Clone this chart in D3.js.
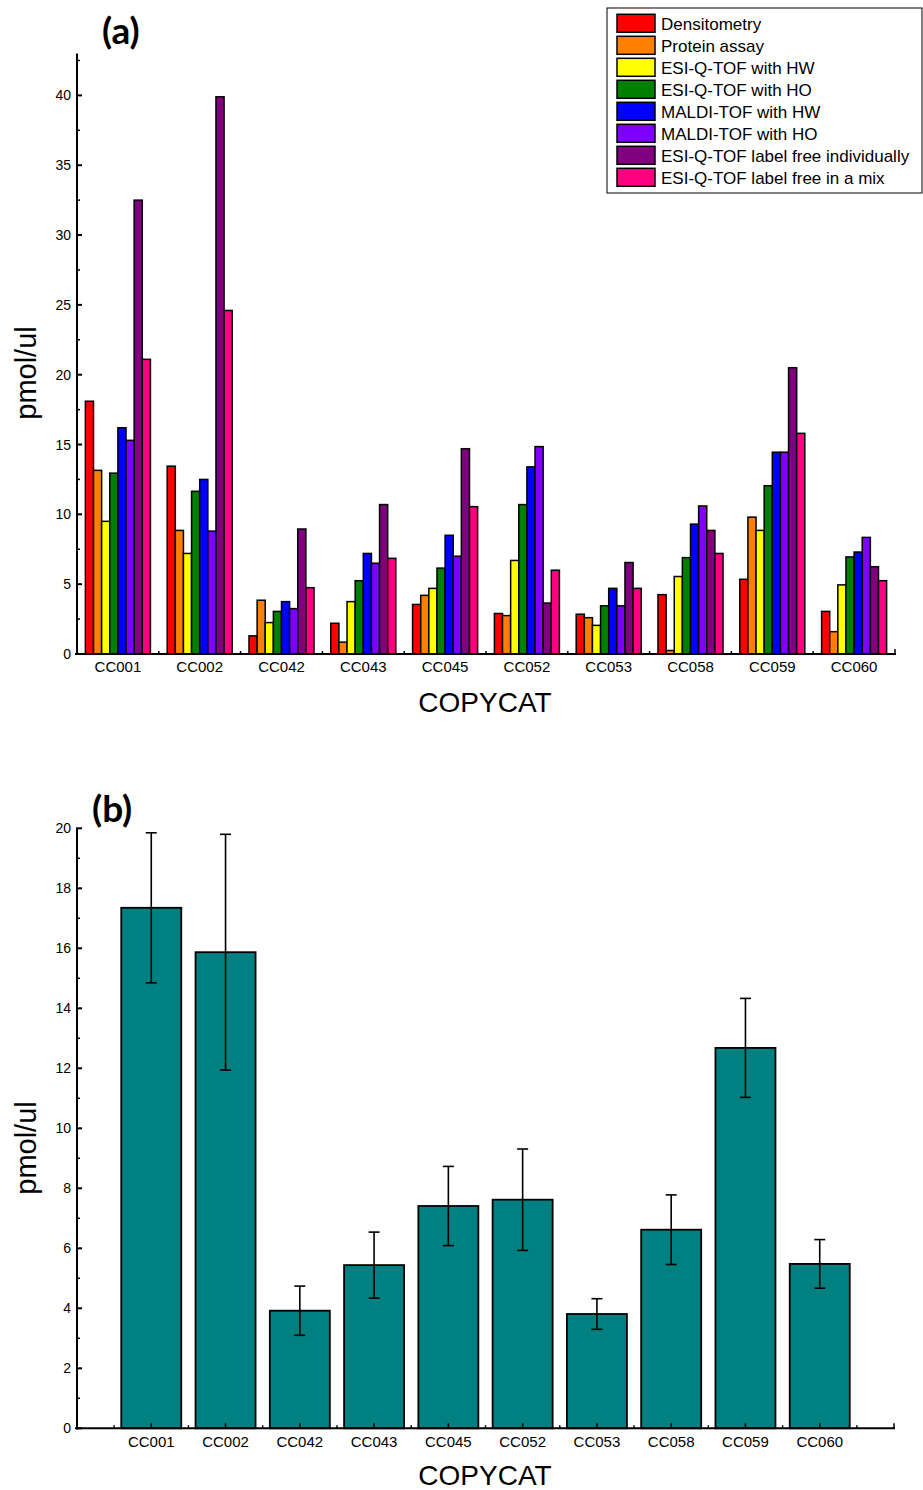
<!DOCTYPE html>
<html>
<head>
<meta charset="utf-8">
<script src="https://cdn.jsdelivr.net/npm/d3@7"></script>
<style>
  html, body { margin: 0; padding: 0; background: #fff; }
  svg { display: block; }
  text { font-family: "Liberation Sans", Arial, sans-serif; fill: #000; }
  text.panel { font-family: Lato, "Open Sans", sans-serif; font-weight: 700; }
</style>
</head>
<body>
<svg id="fig" width="923" height="1490"></svg>
<script>
// ---- data -------------------------------------------------------------
const categories = ["CC001","CC002","CC042","CC043","CC045","CC052","CC053","CC058","CC059","CC060"];

const seriesNames = [
  "Densitometry",
  "Protein assay",
  "ESI-Q-TOF with HW",
  "ESI-Q-TOF with HO",
  "MALDI-TOF with HW",
  "MALDI-TOF with HO",
  "ESI-Q-TOF label free individually",
  "ESI-Q-TOF label free in a mix"
];
const seriesColors = ["#FF0000","#FF8000","#FFFF00","#008000","#0000FF","#8000FF","#800080","#FF0080"];

// one array per method, values per COPYCAT protein (pmol/ul)
const densitometry   = [18.1, 13.45, 1.3, 2.2, 3.55, 2.9, 2.85, 4.25, 5.35, 3.05];
const proteinAssay   = [13.15, 8.85, 3.85, 0.85, 4.2, 2.75, 2.6, 0.25, 9.8, 1.6];
const esiHW          = [9.5, 7.2, 2.25, 3.75, 4.7, 6.7, 2.05, 5.55, 8.85, 4.95];
const esiHO          = [12.95, 11.65, 3.05, 5.25, 6.15, 10.7, 3.45, 6.9, 12.05, 6.95];
const maldiHW        = [16.2, 12.5, 3.75, 7.2, 8.5, 13.4, 4.7, 9.3, 14.45, 7.3];
const maldiHO        = [15.3, 8.8, 3.25, 6.5, 7.0, 14.85, 3.45, 10.6, 14.45, 8.35];
const esiFreeIndiv   = [32.5, 39.9, 8.95, 10.7, 14.7, 3.65, 6.55, 8.85, 20.5, 6.25];
const esiFreeMix     = [21.1, 24.6, 4.75, 6.85, 10.55, 6.0, 4.7, 7.2, 15.8, 5.25];

const seriesValues = [densitometry, proteinAssay, esiHW, esiHO, maldiHW, maldiHO, esiFreeIndiv, esiFreeMix];

// panel (b): mean over all methods and its error
const meanValues = [17.35, 15.87, 3.92, 5.44, 7.41, 7.62, 3.81, 6.62, 12.68, 5.48];
const meanErrors = [2.5, 3.93, 0.82, 1.1, 1.32, 1.69, 0.51, 1.16, 1.65, 0.81];

const yTicksA = [0, 5, 10, 15, 20, 25, 30, 35, 40];
const yTicksB = [0, 2, 4, 6, 8, 10, 12, 14, 16, 18, 20];

// ---- helpers ----------------------------------------------------------
const svg = d3.select("#fig");

function yAxisLeft(g, y, majors, minorStep, maxVal, x0) {
  g.append("line").attr("x1", x0).attr("x2", x0)
    .attr("y1", y(0) + 1).attr("y2", y(maxVal))
    .attr("stroke", "#000").attr("stroke-width", 2);
  const minors = d3.range(0, maxVal + 1e-9, minorStep).filter(v => !majors.includes(v));
  g.selectAll(null).data(majors).join("line")
    .attr("x1", x0 - 1).attr("x2", x0 + 5)
    .attr("y1", d => y(d)).attr("y2", d => y(d))
    .attr("stroke", "#000").attr("stroke-width", 2);
  g.selectAll(null).data(minors).join("line")
    .attr("x1", x0).attr("x2", x0 + 3)
    .attr("y1", d => y(d)).attr("y2", d => y(d))
    .attr("stroke", "#000").attr("stroke-width", 1.5);
  g.selectAll(null).data(majors).join("text")
    .attr("x", x0 - 6).attr("y", d => y(d)).attr("dy", "0.36em")
    .attr("text-anchor", "end").attr("font-size", 14)
    .text(d => d);
}

function xAxisBottom(g, x, y0, majors, minors, endVal) {
  g.append("line").attr("x1", x.range()[0] - 2).attr("x2", x(endVal) + 1)
    .attr("y1", y0).attr("y2", y0)
    .attr("stroke", "#000").attr("stroke-width", 2);
  g.selectAll(null).data(majors).join("line")
    .attr("x1", d => x(d)).attr("x2", d => x(d))
    .attr("y1", y0).attr("y2", y0 - 5)
    .attr("stroke", "#000").attr("stroke-width", 1.5);
  g.selectAll(null).data(minors).join("line")
    .attr("x1", d => x(d)).attr("x2", d => x(d))
    .attr("y1", y0).attr("y2", y0 - 3)
    .attr("stroke", "#000").attr("stroke-width", 1.5);
}

// ---- panel (a): grouped bars -----------------------------------------
const xA = d3.scaleLinear().domain([0.5, 10.5]).range([77, 895]);
const yA = d3.scaleLinear().domain([0, 43]).range([654, 53.5]);
const groupWidth = 0.795 * (xA(2) - xA(1));
const inner = d3.scaleBand().domain(d3.range(seriesNames.length))
  .range([-groupWidth / 2, groupWidth / 2]).paddingInner(0);

const gA = svg.append("g");

const barsA = gA.append("g");
categories.forEach((cat, ci) => {
  seriesValues.forEach((vals, si) => {
    barsA.append("rect")
      .attr("x", xA(ci + 1) + inner(si))
      .attr("width", inner.bandwidth())
      .attr("y", yA(vals[ci]))
      .attr("height", yA(0) - yA(vals[ci]))
      .attr("fill", seriesColors[si])
      .attr("stroke", "#000")
      .attr("stroke-width", 1.5);
  });
});

xAxisBottom(gA, xA, yA(0), [10.5], d3.range(1.5, 10.5, 1), 10.5);
yAxisLeft(gA, yA, yTicksA, 2.5, 43, 77);

gA.selectAll(null).data(categories).join("text")
  .attr("x", (d, i) => xA(i + 1)).attr("y", 672)
  .attr("text-anchor", "middle").attr("font-size", 15)
  .text(d => d);

gA.append("text").attr("x", 485).attr("y", 712)
  .attr("text-anchor", "middle").attr("font-size", 28).text("COPYCAT");
gA.append("text")
  .attr("transform", "translate(36,373) rotate(-90)")
  .attr("text-anchor", "middle").attr("font-size", 29).text("pmol/ul");
gA.append("text").attr("class", "panel").attr("x", 102).attr("y", 44)
  .attr("font-size", 37).text("(a)");

// legend
const legend = gA.append("g");
legend.append("rect").attr("x", 607).attr("y", 8).attr("width", 315).attr("height", 185)
  .attr("fill", "#fff").attr("stroke", "#000").attr("stroke-width", 1);
seriesNames.forEach((name, i) => {
  const cy = 23.3 + i * 22;
  legend.append("rect").attr("x", 617).attr("y", cy - 9)
    .attr("width", 38).attr("height", 18)
    .attr("fill", seriesColors[i]).attr("stroke", "#000").attr("stroke-width", 1.5);
  legend.append("text").attr("x", 661).attr("y", cy + 1).attr("dy", "0.36em")
    .attr("font-size", 17).text(name);
});

// ---- panel (b): means with error bars --------------------------------
const xB = d3.scaleLinear().domain([0, 11]).range([77, 894]);
const yB = d3.scaleLinear().domain([0, 20]).range([1428.3, 828.3]);
const barW = 0.808 * (xB(1) - xB(0));

const gB = svg.append("g");
gB.selectAll(null).data(meanValues).join("rect")
  .attr("x", (d, i) => xB(i + 1) - barW / 2)
  .attr("width", barW)
  .attr("y", d => yB(d))
  .attr("height", d => yB(0) - yB(d))
  .attr("fill", "#008080").attr("stroke", "#000").attr("stroke-width", 1.8);

xAxisBottom(gB, xB, yB(0), d3.range(1, 12), d3.range(0.5, 11, 1), 11);
yAxisLeft(gB, yB, yTicksB, 1, 20, 77);

// error bars
const err = gB.append("g");
meanValues.forEach((m, i) => {
  const cx = xB(i + 1);
  const lo = yB(m - meanErrors[i]), hi = yB(m + meanErrors[i]);
  err.append("line").attr("x1", cx).attr("x2", cx).attr("y1", lo).attr("y2", hi)
    .attr("stroke", "#000").attr("stroke-width", 1.6);
  [lo, hi].forEach(yy => err.append("line")
    .attr("x1", cx - 5.5).attr("x2", cx + 5.5).attr("y1", yy).attr("y2", yy)
    .attr("stroke", "#000").attr("stroke-width", 1.6));
});

gB.selectAll(null).data(categories).join("text")
  .attr("x", (d, i) => xB(i + 1)).attr("y", 1447)
  .attr("text-anchor", "middle").attr("font-size", 15)
  .text(d => d);

gB.append("text").attr("x", 485).attr("y", 1485)
  .attr("text-anchor", "middle").attr("font-size", 28).text("COPYCAT");
gB.append("text")
  .attr("transform", "translate(36,1148) rotate(-90)")
  .attr("text-anchor", "middle").attr("font-size", 29).text("pmol/ul");
gB.append("text").attr("class", "panel").attr("x", 92).attr("y", 822)
  .attr("font-size", 37).text("(b)");
</script>
</body>
</html>
